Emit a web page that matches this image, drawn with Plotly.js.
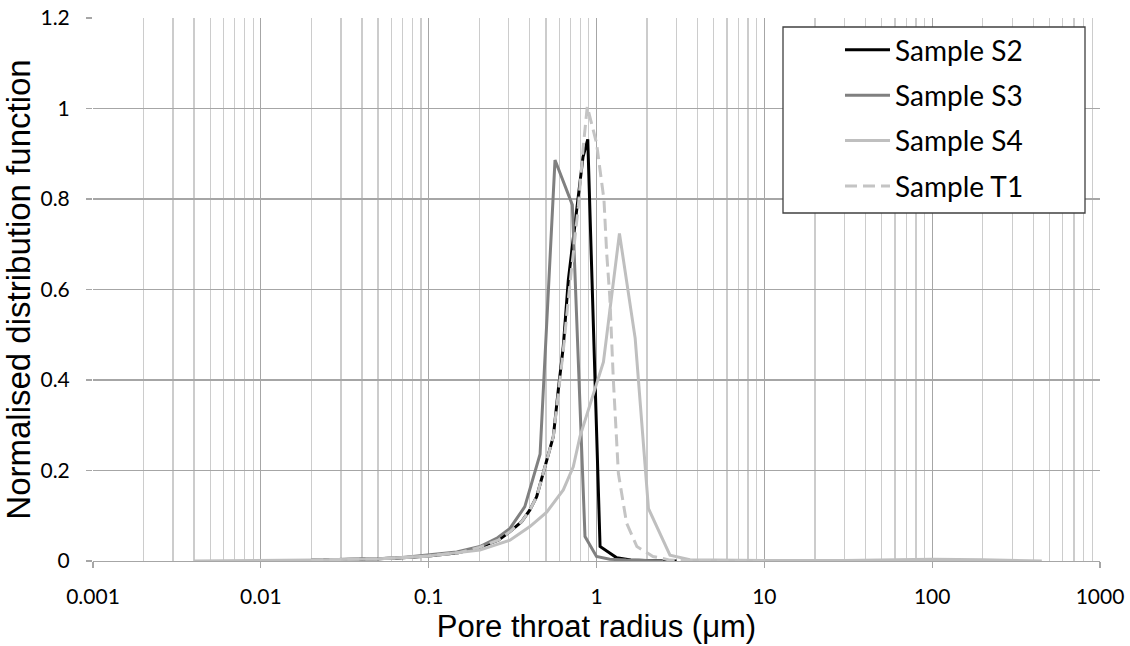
<!DOCTYPE html>
<html>
<head>
<meta charset="utf-8">
<script src="https://cdn.plot.ly/plotly-3.0.1.min.js"></script>
<style>html,body{margin:0;padding:0;background:#fff;}#chart{width:1130px;height:646px;}</style>
</head>
<body>
<div id="chart"></div>
<script>
// Sample S2
var s2X = [0.02, 0.03, 0.05, 0.07, 0.1, 0.15, 0.2, 0.26, 0.305, 0.358, 0.401, 0.44, 0.493, 0.553, 0.592, 0.634, 0.679, 0.831, 0.887, 1.05, 1.32, 1.6, 2.0, 3.0];
var s2Y = [0.002, 0.003, 0.005, 0.007, 0.011, 0.018, 0.03, 0.046, 0.065, 0.087, 0.113, 0.142, 0.208, 0.275, 0.378, 0.474, 0.62, 0.893, 0.932, 0.032, 0.007, 0.002, 0.001, 0];
// Sample S3
var s3X = [0.023, 0.03, 0.05, 0.07, 0.1, 0.147, 0.202, 0.254, 0.305, 0.374, 0.461, 0.566, 0.718, 0.854, 1.0, 1.2, 1.5, 2.0, 2.5];
var s3Y = [0.002, 0.003, 0.005, 0.008, 0.013, 0.02, 0.032, 0.05, 0.072, 0.12, 0.236, 0.886, 0.787, 0.054, 0.01, 0.004, 0.002, 0.001, 0];
// Sample S4
var s4X = [0.004, 0.01, 0.02, 0.05, 0.1, 0.202, 0.305, 0.401, 0.505, 0.634, 0.727, 0.797, 1.1, 1.37, 1.70, 2.04, 2.74, 3.6, 5, 10, 30, 100, 200, 450];
var s4Y = [0, 0.001, 0.002, 0.005, 0.011, 0.024, 0.046, 0.076, 0.108, 0.157, 0.208, 0.275, 0.44, 0.724, 0.492, 0.116, 0.013, 0.003, 0.002, 0.001, 0.001, 0.004, 0.003, 0];
// Sample T1
var t1X = [0.02, 0.03, 0.05, 0.07, 0.1, 0.15, 0.2, 0.26, 0.305, 0.358, 0.401, 0.44, 0.493, 0.553, 0.592, 0.632, 0.68, 0.727, 0.779, 0.834, 0.881, 1.0, 1.108, 1.15, 1.2, 1.26, 1.35, 1.51, 1.74, 2.17, 2.74, 4, 10];
var t1Y = [0.002, 0.003, 0.005, 0.007, 0.011, 0.018, 0.03, 0.046, 0.065, 0.087, 0.113, 0.142, 0.208, 0.275, 0.37, 0.46, 0.58, 0.68, 0.783, 0.916, 1.004, 0.924, 0.798, 0.68, 0.584, 0.40, 0.194, 0.084, 0.032, 0.01, 0.002, 0.001, 0];

var seriesNames = ['Sample S2', 'Sample S3', 'Sample S4', 'Sample T1'];
var xTickVals = [0.001, 0.01, 0.1, 1, 10, 100, 1000];
var xTickText = ['0.001', '0.01', '0.1', '1', '10', '100', '1000'];
var yTickVals = [0, 0.2, 0.4, 0.6, 0.8, 1, 1.2];
var yTickText = ['0', '0.2', '0.4', '0.6', '0.8', '1', '1.2'];

function tr(x, y, name, color, dash) {
  return {x: x, y: y, name: name, type: 'scatter', mode: 'lines', legendgroup: name,
    line: {color: color, width: 3, dash: dash || 'solid'}};
}
var data = [
  tr(s2X, s2Y, seriesNames[0], '#000000'),
  tr(s3X, s3Y, seriesNames[1], '#808080'),
  tr(s4X, s4Y, seriesNames[2], '#bfbfbf'),
  tr(t1X, t1Y, seriesNames[3], '#c4c4c4', '12px,6px')
];

var layout = {
  width: 1130, height: 646,
  margin: {l: 93, r: 30, t: 18, b: 85},
  paper_bgcolor: '#ffffff', plot_bgcolor: '#ffffff',
  showlegend: true,
  legend: {x: 0.7418, xanchor: 'left', y: 0.987, yanchor: 'top', bgcolor: 'rgba(0,0,0,0)',
    borderwidth: 0, itemwidth: 45, tracegroupgap: 6,
    font: {family: 'Lato, sans-serif', size: 28, color: '#000'}},
  xaxis: {type: 'log', range: [-3, 3], tickvals: xTickVals, ticktext: xTickText,
    showgrid: true, gridcolor: '#a6a6a6', gridwidth: 1.3,
    minor: {dtick: 'D1', showgrid: true, gridcolor: '#cccccc', gridwidth: 1.3, ticks: ''},
    showline: true, linecolor: '#a6a6a6', linewidth: 1.3,
    ticks: 'outside', ticklen: 6, tickcolor: '#a6a6a6', tickwidth: 1.3,
    ticklabelstandoff: 10,
    tickfont: {family: 'Lato, sans-serif', size: 21, color: '#000'},
    zeroline: false,
    title: {text: 'Pore throat radius (μm)', standoff: 8,
      font: {family: 'Liberation Sans, Arial, sans-serif', size: 31, color: '#000'}}},
  yaxis: {range: [0, 1.2], tickvals: yTickVals, ticktext: yTickText,
    showgrid: true, gridcolor: '#a6a6a6', gridwidth: 1.3,
    showline: false, zeroline: false,
    ticks: 'outside', ticklen: 6, tickcolor: '#a6a6a6', tickwidth: 1.3,
    ticklabelstandoff: 12,
    tickfont: {family: 'Lato, sans-serif', size: 21, color: '#000'},
    title: {text: 'Normalised distribution function', standoff: 7,
      font: {family: 'Liberation Sans, Arial, sans-serif', size: 33, color: '#000'}}},
  shapes: [{type: 'rect', xref: 'paper', yref: 'paper',
    x0: (783 - 93) / 1007, x1: (1085 - 93) / 1007,
    y0: (561 - 213) / 543, y1: (561 - 27) / 543,
    line: {color: '#404040', width: 1.3}, fillcolor: '#ffffff', layer: 'above'}]
};
Plotly.newPlot('chart', data, layout, {displayModeBar: false, staticPlot: true});
</script>
</body>
</html>
